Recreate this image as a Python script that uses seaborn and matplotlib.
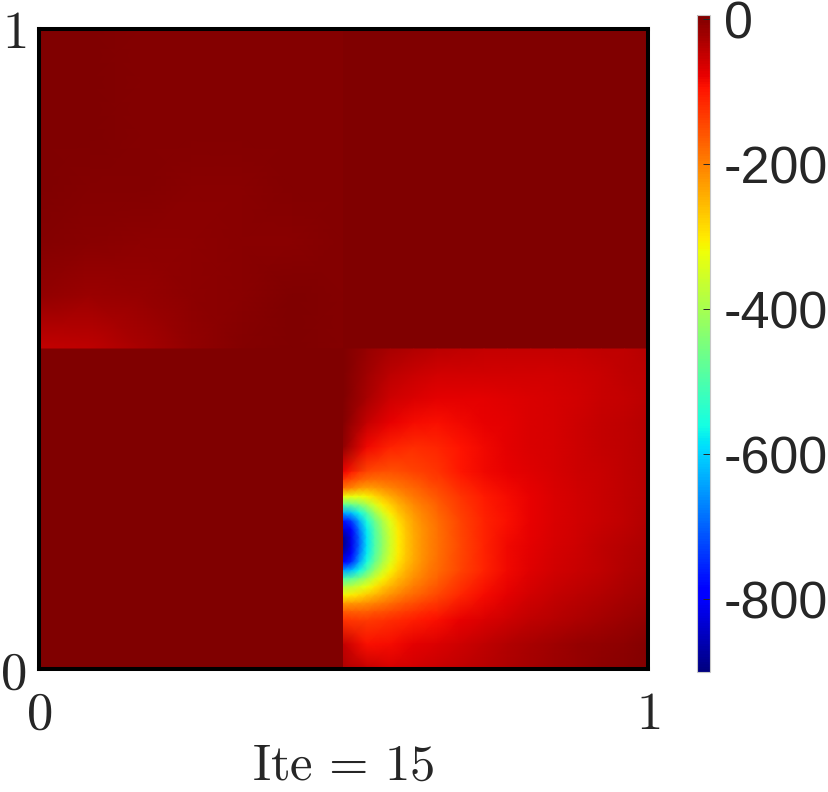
import numpy as np
import seaborn as sns
import matplotlib
matplotlib.use("Agg")
import matplotlib.pyplot as plt
from matplotlib.transforms import Affine2D

plt.rcParams['font.family'] = ['Liberation Sans', 'DejaVu Sans']
plt.rcParams['mathtext.fontset'] = 'cm'

colorbar_ticks = [-800, -600, -400, -200, 0]
colorbar_labels = ['-800', '-600', '-400', '-200', '0']
axis_labels = ['$0$', '$1$']
title_text = r'$\mathrm{Ite}\,=\,15$'

# values, rows go top to bottom
top_left = [
    [6, 4, 1, 0, 0, 0, 0],
    [6, 4, 1, 0, 0, 0, 0],
    [6, 3, 1, 0, 0, 0, 0],
    [5, 1, -1, -2, -2, -1, 0],
    [2, -3, -5, -5, -4, -2, 0],
    [-9, -16, -14, -8, -2, 3, 1],
    [-50, -44, -26, -10, -1, 3, -1],
]
top_right = [
    [6, 6],
    [6, 6],
]
bottom_left = [
    [3, 3],
    [3, 3],
]
bottom_right = [
    [4, -15, -26, -36, -42, -46, -48, -50, -50, -50, -49, -47, -44, -38],
    [4, -20, -42, -52, -58, -60, -61, -61, -60, -58, -55, -51, -46, -42],
    [4, -28, -56, -68, -74, -75, -73, -70, -67, -63, -58, -53, -48, -42],
    [0, -50, -76, -88, -90, -86, -78, -72, -67, -62, -56, -50, -45, -40],
    [-10, -85, -110, -118, -112, -96, -84, -75, -68, -62, -56, -50, -45, -40],
    [-80, -145, -155, -142, -125, -100, -86, -77, -70, -63, -57, -51, -46, -40],
    [-320, -310, -240, -192, -160, -125, -102, -88, -76, -67, -59, -52, -45, -38],
    [-775, -550, -335, -232, -184, -140, -110, -90, -78, -68, -60, -51, -44, -36],
    [-885, -585, -357, -240, -188, -145, -108, -85, -73, -63, -55, -47, -39, -31],
    [-640, -490, -310, -225, -180, -142, -108, -84, -70, -60, -52, -44, -36, -27],
    [-315, -270, -215, -175, -146, -112, -88, -72, -60, -50, -42, -34, -27, -20],
    [-125, -133, -120, -105, -92, -78, -66, -55, -46, -38, -30, -23, -16, -10],
    [-50, -92, -88, -75, -65, -55, -45, -36, -28, -22, -15, -10, -5, 0],
    [-30, -50, -62, -58, -52, -45, -38, -30, -24, -18, -12, -7, -2, 0],
]
# finer reading around the minimum on the interface
hot_spot = [
    [-80, -105, -130, -145, -152, -155, -155, -152, -148, -142, -136, -130, -125],
    [-135, -150, -170, -180, -182, -180, -178, -172, -165, -157, -150, -142, -135],
    [-190, -205, -225, -232, -225, -215, -205, -195, -185, -175, -165, -155, -147],
    [-320, -325, -325, -310, -285, -262, -240, -222, -205, -192, -180, -170, -160],
    [-480, -470, -440, -395, -345, -305, -275, -248, -228, -208, -195, -182, -170],
    [-640, -620, -565, -490, -410, -350, -305, -270, -245, -222, -205, -190, -178],
    [-775, -735, -640, -550, -465, -395, -335, -290, -258, -232, -213, -197, -184],
    [-835, -790, -680, -575, -490, -415, -350, -300, -265, -238, -218, -200, -187],
    [-880, -815, -700, -585, -500, -425, -357, -305, -268, -240, -220, -202, -188],
    [-885, -815, -700, -585, -500, -425, -357, -305, -268, -240, -220, -202, -188],
    [-850, -795, -680, -575, -490, -418, -352, -302, -267, -240, -220, -202, -188],
    [-790, -745, -640, -550, -465, -395, -338, -293, -260, -235, -215, -198, -185],
    [-640, -620, -565, -490, -412, -355, -310, -275, -247, -225, -207, -192, -180],
    [-500, -480, -445, -400, -350, -312, -280, -252, -232, -212, -197, -184, -172],
    [-385, -375, -350, -325, -295, -270, -247, -228, -210, -195, -182, -170, -160],
    [-315, -305, -290, -270, -250, -232, -215, -200, -188, -175, -164, -154, -146],
    [-225, -222, -220, -212, -200, -190, -180, -170, -160, -150, -142, -134, -128],
    [-165, -168, -170, -168, -160, -155, -148, -140, -133, -125, -120, -113, -108],
    [-125, -130, -135, -133, -128, -125, -120, -115, -110, -105, -100, -96, -92],
]

W, H = 829, 792
fig = plt.figure(figsize=(W / 100, H / 100), dpi=100)
ax = fig.add_axes([39 / W, (H - 669) / H, 609 / W, 640 / H])
cax = fig.add_axes([697 / W, (H - 672) / H, 13 / W, 657 / H])


def draw_patch(values, x0, x1, y0, y1, **kws):
    # one smooth sns.heatmap per patch, so the jumps at x=0.5 and y=0.5 stay sharp
    values = np.array(values, dtype=float)
    nrows, ncols = values.shape
    place = Affine2D().scale((x1 - x0) / (ncols - 1), -(y1 - y0) / (nrows - 1)).translate(x0, y1)
    sns.heatmap(values, ax=ax, cmap='jet', vmin=-900, vmax=6, shading='gouraud',
                transform=place + ax.transData, xticklabels=False, yticklabels=False, **kws)


draw_patch(top_left, 0, 0.5, 0.5, 1, cbar=True, cbar_ax=cax)
draw_patch(top_right, 0.5, 1, 0.5, 1, cbar=False)
draw_patch(bottom_left, 0, 0.5, 0, 0.5, cbar=False)
draw_patch(bottom_right, 0.5, 1, 0, 0.5, cbar=False)
# hot spot lines up with the bottom_right grid: 4 columns across, rows 5 to 11
draw_patch(hot_spot, 0.5, 0.5 + 0.5 * 4 / 13, 0.5 * 2 / 13, 0.5 * 8 / 13, cbar=False)

ax.set_xlim(0, 1)
ax.set_ylim(0, 1)
ax.set_xticks([0, 1])
ax.set_yticks([0, 1])
ax.set_xticklabels(axis_labels, fontsize=38, color='#262626')
ax.set_yticklabels(axis_labels, fontsize=38, color='#262626')
ax.tick_params(axis='both', length=0)
ax.tick_params(axis='x', pad=15)
ax.tick_params(axis='y', pad=9)
for side in ax.spines.values():
    side.set_visible(True)
    side.set_linewidth(2.9)
    side.set_color('black')
ax.set_xlabel(title_text, fontsize=36.5, color='#262626', labelpad=1)

cb = ax.collections[0].colorbar
cb.set_ticks(colorbar_ticks)
cb.set_ticklabels(colorbar_labels)
cb.outline.set_linewidth(0.8)
cb.outline.set_edgecolor('#c8c8c8')
cax.tick_params(axis='y', direction='in', length=5, width=0.7, color='#262626',
                labelsize=37.5, labelcolor='#262626', pad=10)

fig.savefig('out.png', dpi=100)
